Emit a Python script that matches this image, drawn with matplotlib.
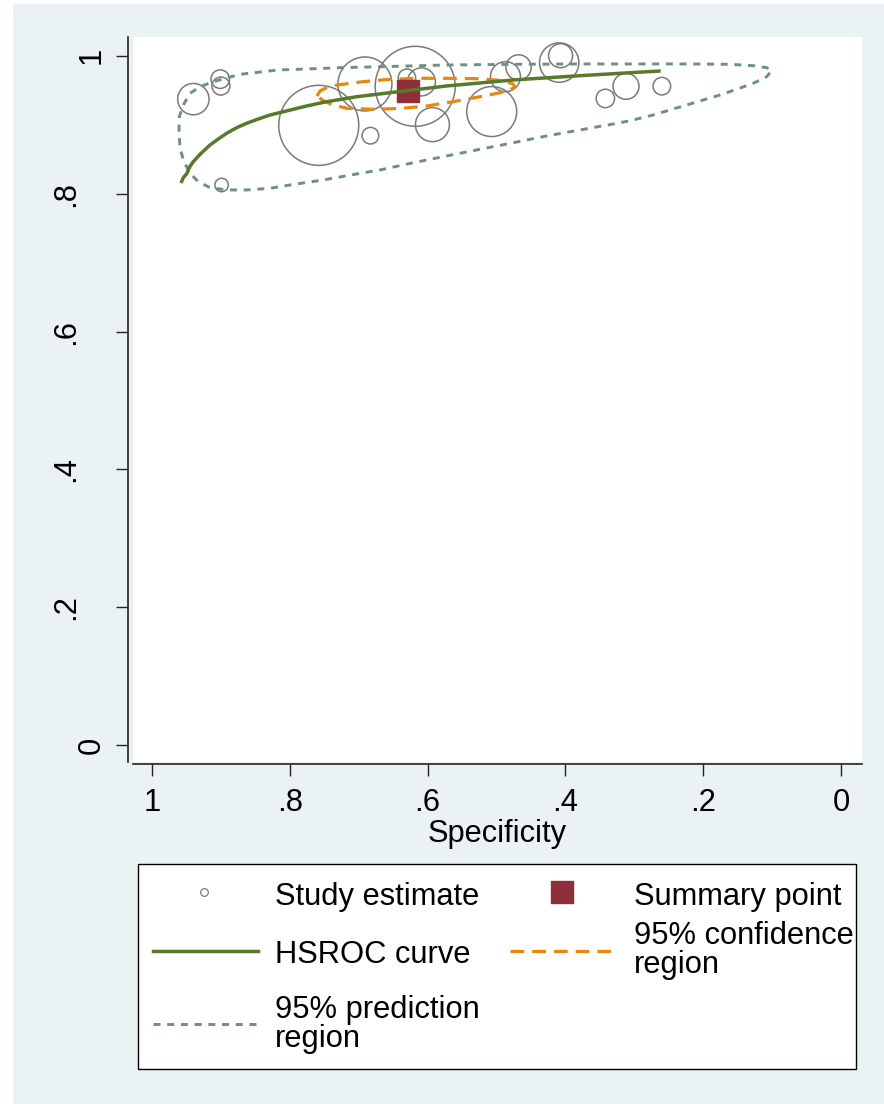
import matplotlib
matplotlib.use("Agg")
import matplotlib.pyplot as plt
from matplotlib.patches import Rectangle
from matplotlib.lines import Line2D
import matplotlib.transforms as mtransforms

# ---------------- data ----------------
study_spec = [0.940, 0.901, 0.900, 0.899, 0.758, 0.683, 0.691, 0.618, 0.630, 0.609,
              0.593, 0.507, 0.487, 0.468, 0.409, 0.407, 0.342, 0.312, 0.260]
study_sens = [0.937, 0.966, 0.956, 0.8125, 0.899, 0.884, 0.959, 0.9556, 0.968, 0.962,
              0.900, 0.919, 0.9696, 0.983, 0.990, 1.000, 0.938, 0.9556, 0.9558]
study_weight = [246, 86, 81, 45, 1600, 69, 729, 1600, 76, 196,
                289, 625, 225, 159, 388, 144, 85, 169, 77]

summary_spec = [0.628]
summary_sens = [0.949]

hsroc_spec = [0.9579, 0.9546, 0.9496, 0.9448, 0.9401, 0.9303, 0.9158, 0.9038, 0.8916,
              0.8771, 0.8626, 0.8457, 0.8287, 0.7755, 0.7464, 0.7029, 0.6546, 0.6208,
              0.5723, 0.4756, 0.3788, 0.3062, 0.2617]
hsroc_sens = [0.8154, 0.8231, 0.8289, 0.8396, 0.8463, 0.8570, 0.8705, 0.8792, 0.8875,
              0.8956, 0.9020, 0.9082, 0.9140, 0.9271, 0.9333, 0.9405, 0.9463, 0.9503,
              0.9561, 0.9648, 0.9710, 0.9753, 0.9778]

conf_spec = [0.7605, 0.7562, 0.7475, 0.7315, 0.6938, 0.6546, 0.6110, 0.5718, 0.5240,
             0.4906, 0.4761, 0.4732, 0.4804, 0.4949, 0.5240, 0.5631, 0.6009, 0.6401,
             0.6792, 0.7170, 0.7373, 0.7518, 0.7605]
conf_sens = [0.9416, 0.9488, 0.9532, 0.9575, 0.9623, 0.9658, 0.9672, 0.9672, 0.9666,
             0.9637, 0.9590, 0.9546, 0.9503, 0.9463, 0.9405, 0.9333, 0.9271, 0.9234,
             0.9223, 0.9237, 0.9285, 0.9350, 0.9416]

pred_spec = [0.9608, 0.9604, 0.9546, 0.9448, 0.9303, 0.9110, 0.8723, 0.8167, 0.7755,
             0.7271, 0.6691, 0.5723, 0.4756, 0.3788, 0.2240, 0.1611, 0.1273, 0.1078,
             0.1006, 0.1078, 0.1273, 0.1514, 0.1756, 0.1999, 0.2240, 0.2482, 0.2724,
             0.3062, 0.3305, 0.3788, 0.4271, 0.4756, 0.5240, 0.5723, 0.6208, 0.6691,
             0.7029, 0.7514, 0.7997, 0.8287, 0.8626, 0.8916, 0.9158, 0.9328, 0.9448,
             0.9536, 0.9594, 0.9608]
pred_sens = [0.8898, 0.9115, 0.9285, 0.9455, 0.9550, 0.9623, 0.9730, 0.9793, 0.9807,
             0.9826, 0.9840, 0.9865, 0.9875, 0.9880, 0.9880, 0.9875, 0.9855, 0.9826,
             0.9785, 0.9695, 0.9600, 0.9513, 0.9430, 0.9358, 0.9285, 0.9213, 0.9140,
             0.9057, 0.9010, 0.8923, 0.8836, 0.8738, 0.8643, 0.8546, 0.8448, 0.8343,
             0.8285, 0.8198, 0.8125, 0.8077, 0.8053, 0.8053, 0.8086, 0.8173, 0.8295,
             0.8463, 0.8657, 0.8898]

x_ticks = [1, 0.8, 0.6, 0.4, 0.2, 0]
x_tick_labels = ["1", ".8", ".6", ".4", ".2", "0"]
y_ticks = [1, 0.8, 0.6, 0.4, 0.2, 0]
y_tick_labels = ["1", ".8", ".6", ".4", ".2", "0"]
x_label = "Specificity"
legend_labels = ["Study estimate", "Summary point", "HSROC curve",
                 "95% confidence\nregion", "95% prediction\nregion"]

# ---------------- styles ----------------
FONT = "Liberation Sans"
FS = 22.2
BG = "#EAF2F3"
GREEN = "#587A2B"
ORANGE = "#E8870E"
PRED = "#6E9083"
RED = "#8E3039"
CIRC = "#7A7A7A"

W, H = 884, 1104
plt.rcParams["font.family"] = [FONT, "DejaVu Sans"]
fig = plt.figure(figsize=(W / 100, H / 100), dpi=100, facecolor="white")
fig.patches.append(Rectangle((13 / W, 0), 1 - 13 / W, 1 - 4 / H, transform=fig.transFigure,
                             facecolor=BG, edgecolor="none", zorder=-10))


def fx(px):
    return px / W


def fy(py):
    return 1 - py / H


ax = fig.add_axes([fx(133), fy(762), (862 - 133) / W, (762 - 37) / H])
ax.set_facecolor("white")
ax.set_xlim(1.0276, -0.0305)
ax.set_ylim(-0.0242, 1.0271)

for s in ["top", "right"]:
    ax.spines[s].set_visible(False)
ax.spines["left"].set_position(("outward", 3.6))
ax.spines["bottom"].set_position(("outward", 1.5))
for s in ["left", "bottom"]:
    ax.spines[s].set_color("#222222")
    ax.spines[s].set_linewidth(1.2)

ax.set_xticks(x_ticks)
ax.set_xticklabels(x_tick_labels, fontsize=FS)
ax.tick_params(axis="x", length=8.6, width=1.0, color="#222222", pad=8.5)
ax.set_yticks(y_ticks)
ax.set_yticklabels([""] * len(y_ticks))
ax.tick_params(axis="y", length=8.6, width=1.0, color="#222222")
ax.set_xlabel(x_label, fontsize=FS, labelpad=1)

ytrans = mtransforms.blended_transform_factory(fig.transFigure, ax.transData)
for v, lab in zip(y_ticks, y_tick_labels):
    xpos = 91.5 if len(lab) == 1 else 66.5
    ax.text(fx(xpos), v, lab, transform=ytrans, rotation=90, ha="center", va="center",
            fontsize=FS, clip_on=False)

# marks
px2pt = 0.72
sizes = [w * (2 * px2pt) ** 2 for w in study_weight]
ax.scatter(study_spec, study_sens, s=sizes, facecolors="none", edgecolors=CIRC,
           linewidths=1.1, zorder=2)
ax.plot(pred_spec, pred_sens, color=PRED, lw=2.1, dashes=(2.4, 2.3), zorder=3)
ax.plot(conf_spec, conf_sens, color=ORANGE, lw=2.3, dashes=(4.3, 2.5), zorder=4)
ax.plot(summary_spec, summary_sens, marker="s", ms=15.8, color=RED, ls="none", zorder=5)
ax.plot(hsroc_spec, hsroc_sens, color=GREEN, lw=2.5, zorder=6, solid_capstyle="butt",
        solid_joinstyle="round")

# ---------------- legend (drawn manually in figure coords) ----------------
fig.patches.append(Rectangle((fx(138), fy(1069)), (856 - 138) / W, (1069 - 864) / H,
                             transform=fig.transFigure, facecolor="white",
                             edgecolor="black", lw=1.0, zorder=1))
fig.lines.append(Line2D([fx(204)], [fy(892)], marker="o", ms=5.5, mfc="none", mec=CIRC,
                        mew=0.9, ls="none", transform=fig.transFigure, zorder=2))
fig.lines.append(Line2D([fx(562)], [fy(892)], marker="s", ms=15.8, color=RED, ls="none",
                        transform=fig.transFigure, zorder=2))
fig.lines.append(Line2D([fx(153), fx(258)], [fy(951), fy(951)], color=GREEN, lw=2.5,
                        transform=fig.transFigure, zorder=2))
fig.lines.append(Line2D([fx(510), fx(616)], [fy(951), fy(951)], color=ORANGE, lw=2.3,
                        dashes=(4.3, 2.5), transform=fig.transFigure, zorder=2))
fig.lines.append(Line2D([fx(153), fx(258)], [fy(1024), fy(1024)], color=PRED, lw=2.1,
                        dashes=(2.4, 2.3), transform=fig.transFigure, zorder=2))

leg_pos = [(275, 905), (634, 905), (275, 963), (634, 944), (275, 1018)]
for (x, y), lab in zip(leg_pos, legend_labels):
    for i, line in enumerate(lab.split("\n")):
        fig.text(fx(x), fy(y + i * 29), line, fontsize=FS, ha="left", va="baseline",
                 zorder=3)

fig.savefig("out.png", dpi=100, facecolor=fig.get_facecolor())
